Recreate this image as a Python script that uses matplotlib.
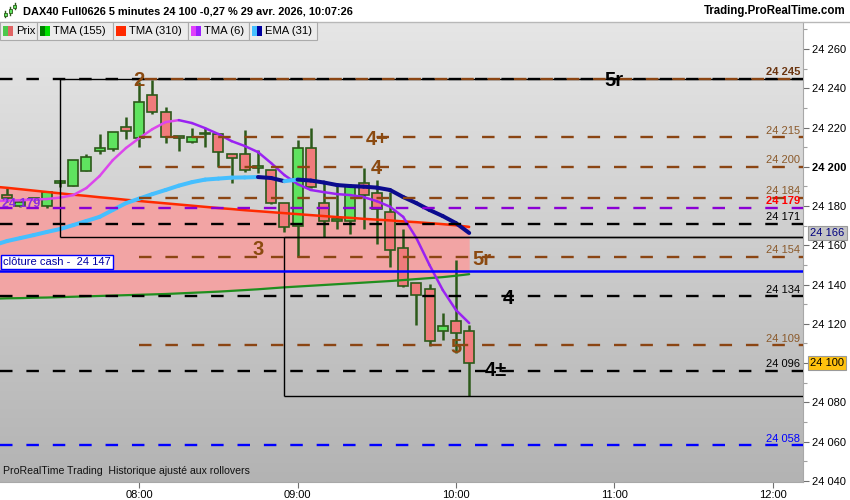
import numpy as np
import matplotlib
matplotlib.use("Agg")
import matplotlib.pyplot as plt
from matplotlib.patches import Rectangle
from matplotlib.lines import Line2D
from matplotlib.collections import LineCollection
from matplotlib.colors import LinearSegmentedColormap
from matplotlib.ticker import FuncFormatter, MultipleLocator

plt.rcParams['font.family'] = ['Liberation Sans', 'DejaVu Sans']
plt.rcParams['lines.scale_dashes'] = False

# ---------------- data ----------------
times = ["07:10", "07:15", "07:20", "07:25", "07:30", "07:35", "07:40", "07:45", "07:50", "07:55",
         "08:00", "08:05", "08:10", "08:15", "08:20", "08:25", "08:30", "08:35", "08:40", "08:45",
         "08:50", "08:55", "09:00", "09:05", "09:10", "09:15", "09:20", "09:25", "09:30", "09:35",
         "09:40", "09:45", "09:50", "09:55", "10:00", "10:05"]
opens = [24185.5, 24180.0, 24183.5, 24180.2, 24191.8, 24190.3, 24198.0, 24208.2, 24209.0, 24220.1,
         24214.5, 24236.6, 24228.0, 24215.0, 24212.5, 24216.5, 24216.5, 24206.3, 24206.3, 24199.2,
         24198.3, 24181.4, 24170.1, 24209.4, 24181.4, 24172.5, 24172.5, 24191.9, 24186.5, 24177.1,
         24158.4, 24140.9, 24138.0, 24116.3, 24121.4, 24116.3]
highs = [24189.0, 24183.0, 24184.0, 24187.8, 24193.2, 24203.4, 24206.5, 24216.7, 24217.6, 24225.2,
         24243.0, 24244.5, 24230.6, 24215.5, 24219.6, 24219.6, 24217.0, 24206.5, 24218.7, 24208.5,
         24198.5, 24181.5, 24213.8, 24219.6, 24191.9, 24190.2, 24190.5, 24199.2, 24193.2, 24187.3,
         24168.3, 24141.0, 24140.3, 24125.3, 24152.5, 24119.4]
lows = [24182.0, 24179.5, 24182.5, 24179.0, 24189.5, 24190.3, 24198.0, 24206.4, 24208.0, 24214.1,
        24210.3, 24227.0, 24212.3, 24208.2, 24212.0, 24210.2, 24200.0, 24191.6, 24197.5, 24197.0,
        24181.0, 24166.9, 24154.2, 24189.0, 24164.4, 24168.1, 24166.0, 24168.1, 24160.5, 24149.1,
        24139.0, 24119.4, 24108.7, 24111.7, 24104.9, 24083.2]
closes = [24184.0, 24182.0, 24183.0, 24187.3, 24192.2, 24203.4, 24205.1, 24209.4, 24217.6, 24218.4,
          24233.2, 24228.0, 24215.3, 24214.8, 24215.3, 24216.9, 24207.4, 24204.3, 24198.3, 24200.4,
          24181.4, 24169.1, 24209.4, 24189.5, 24172.4, 24173.3, 24190.2, 24185.6, 24178.5, 24157.6,
          24139.2, 24134.6, 24111.2, 24119.0, 24115.1, 24100.0]

line_times = ["07:05"] + times
tma155 = [24132.8, 24133.0, 24133.1, 24133.3, 24133.4, 24133.6, 24133.8, 24134.0, 24134.2, 24134.4,
          24134.6, 24134.8, 24135.0, 24135.2, 24135.5, 24135.8, 24136.1, 24136.4, 24136.8, 24137.2,
          24137.6, 24138.1, 24138.6, 24139.0, 24139.4, 24139.8, 24140.2, 24140.6, 24141.0, 24141.4,
          24141.8, 24142.3, 24142.8, 24143.3, 24143.8, 24144.5, 24145.3]
tma310 = [24189.9, 24189.3, 24188.6, 24187.9, 24187.2, 24186.5, 24185.8, 24185.2, 24184.5, 24183.9,
          24183.2, 24182.6, 24182.0, 24181.4, 24180.8, 24180.2, 24179.6, 24179.0, 24178.5, 24177.9,
          24177.4, 24176.9, 24176.4, 24175.9, 24175.4, 24174.9, 24174.4, 24174.0, 24173.5, 24173.1,
          24172.7, 24172.2, 24171.8, 24171.3, 24170.8, 24170.2, 24169.4]
tma6 = [24182.5, 24182.8, 24183.0, 24183.3, 24183.6, 24184.3, 24185.6, 24189.2, 24195.3, 24203.4,
        24209.6, 24214.6, 24219.2, 24222.8, 24223.8, 24222.3, 24219.7, 24216.7, 24213.1, 24210.6,
        24207.5, 24201.9, 24195.8, 24191.2, 24188.2, 24187.1, 24186.1, 24185.6, 24184.6, 24182.5,
        24179.7, 24174.5, 24163.7, 24149.9, 24137.2, 24127.0, 24120.4]
ema31 = [24160.1, 24162.2, 24163.7, 24165.2, 24166.8, 24168.3, 24170.3, 24172.4, 24174.5, 24178.0,
         24181.5, 24183.8, 24186.1, 24188.2, 24190.4, 24192.2, 24193.5, 24194.0, 24194.5, 24194.6,
         24194.8, 24194.3, 24192.7, 24193.5, 24193.0, 24192.0, 24190.7, 24190.2, 24189.9, 24189.4,
         24188.2, 24184.6, 24181.5, 24178.0, 24174.9, 24171.3, 24166.3]

level_prices = [24245, 24215, 24200, 24184, 24179, 24171, 24154, 24134, 24109, 24096, 24058]
level_kinds = ["black", "brown", "brown", "brown", "purple", "black", "brown", "black", "brown", "black", "blue"]
cash_close = 24147
cash_label = "clôture cash -  "

zig_times = ["07:30", "08:55"]
zig_box_levels = [(24245, 24164), (24164, 24083)]

wave_texts = ["2", "5r", "4+", "4", "3", "5r", "4", "5", "4±"]
wave_times = ["08:00", "11:00", "09:30", "09:30", "08:45", "10:10", "10:20", "10:00", "10:15"]
wave_prices = [24245, 24245, 24215, 24200, 24159, 24154, 24134, 24109, 24097]
wave_kinds = ["brown", "black", "brown", "brown", "brown", "brown", "black", "brown", "black"]

xtick_labels = ["08:00", "09:00", "10:00", "11:00", "12:00"]
header = "DAX40 Full0626 5 minutes 24 100 -0,27 % 29 avr. 2026, 10:07:26"
legend_items = ["Prix", "TMA (155)", "TMA (310)", "TMA (6)", "EMA (31)"]

# ---------------- helpers ----------------
W, H = 850, 500


def tmin(s):
    h, m = s.split(":")
    return int(h) * 60 + int(m)


T0 = tmin(times[0])


def tx(s):
    return (tmin(s) - T0) / 5.0


def fmt(v):
    return f"{int(round(v)):,}".replace(",", " ")


xb = np.array([tx(t) for t in times])
xl = np.array([tx(t) for t in line_times])

XL = (-0.545, 60.29)
YL = (24039.4, 24273.8)

BROWN = "#8b4513"
kind_color = {"black": "#000000", "brown": BROWN, "purple": "#8a00d4", "blue": "#0000ff"}
label_color = {"black": "#000000", "brown": "#8b5a2b", "purple": "#ff0000", "blue": "#0000ff"}

fig = plt.figure(figsize=(W / 100, H / 100), dpi=100, facecolor="white")
ax = fig.add_axes([0, 18 / H, 803 / W, 460 / H])

# background gradient
cmap = LinearSegmentedColormap.from_list("bg", ["#e6e6e6", "#b3b3b3"])
ax.imshow(np.linspace(0, 1, 256).reshape(-1, 1), cmap=cmap, aspect="auto",
          extent=[XL[0], XL[1], YL[0], YL[1]], zorder=0, interpolation="bilinear")

# pink zone between the two long TMAs
ax.fill_between(xl, tma310, tma155, color="#f2a4a4", lw=0, zorder=1)

# candles
EDGE = "#2c5a1a"
bw = 0.76
for x, o, h, l, c in zip(xb, opens, highs, lows, closes):
    ax.vlines(x, l, h, color=EDGE, lw=1.8, zorder=3)
    up = c >= o
    bot = min(o, c)
    ht = max(abs(c - o), 0.9)
    ax.add_patch(Rectangle((x - bw / 2, bot), bw, ht, facecolor="#5fe35f" if up else "#f07b7b",
                           edgecolor=EDGE, lw=1.2, zorder=4))

# indicator lines
ax.plot(xl, tma310, color="#ff2a00", lw=1.8, zorder=5, solid_capstyle="round")
ax.plot(xl, tma155, color="#1f8f1f", lw=1.6, zorder=5, solid_capstyle="round")


def two_color(xs, ys, cup, cdn, lw):
    pts = np.column_stack([xs, ys])
    segs = np.stack([pts[:-1], pts[1:]], axis=1)
    cols = [cup if ys[i + 1] >= ys[i] else cdn for i in range(len(ys) - 1)]
    ax.add_collection(LineCollection(segs, colors=cols, linewidths=lw, zorder=6, capstyle="round"))


two_color(xl, tma6, "#dc46ec", "#9a22f2", 1.8)
two_color(xl, ema31, "#45bfff", "#0b0b8e", 2.9)

# zigzag boxes
for zt, (top, bot) in zip(zig_times, zig_box_levels):
    zx = tx(zt)
    ax.vlines(zx, bot, top, color="black", lw=1.0, zorder=6)
    ax.hlines([top, bot], zx, XL[1], color="black", lw=1.0, zorder=6)

# level lines
DASH = (0, (9, 10))
brown_start = tx(wave_times[0])
for p, k in zip(level_prices, level_kinds):
    x0 = brown_start if k == "brown" else XL[0]
    ax.hlines(p, x0, XL[1], color=kind_color[k], lw=1.7, linestyles=[DASH], zorder=7)
    ax.annotate(fmt(p), xy=(1, p), xycoords=ax.get_yaxis_transform(), xytext=(-2.2, 1.3),
                textcoords="offset points", ha="right", va="bottom", fontsize=8,
                color=label_color[k], fontweight="bold" if k == "purple" else "normal",
                zorder=9, annotation_clip=False)
# brown overlay on top level (from wave 2)
ax.hlines(level_prices[0], brown_start, XL[1], color=BROWN, lw=1.7, linestyles=[(15, (9, 10))], zorder=7)
ax.texts[0].set_color("#6b3510")
ax.texts[0].set_fontweight("bold")

# purple level label on the left
ax.annotate(fmt(level_prices[4]), xy=(0, level_prices[4]), xycoords=ax.get_yaxis_transform(),
            xytext=(1.5, 3), textcoords="offset points", ha="left", va="center", fontsize=9,
            color="#8a2be2", fontweight="bold", zorder=8)

# cash close line
ax.axhline(cash_close, color="#0000ff", lw=1.8, zorder=7)
ax.annotate(cash_label + fmt(cash_close), xy=(0, cash_close), xycoords=ax.get_yaxis_transform(),
            xytext=(2, 2.6), textcoords="offset points", ha="left", va="bottom", fontsize=8,
            color="#0000a0", zorder=9,
            bbox=dict(boxstyle="square,pad=0.2", fc="white", ec="#0000ff", lw=1.0))

# wave labels
wave_color = {"brown": "#8b4a10", "black": "#000000"}
for s, t, p, k in zip(wave_texts, wave_times, wave_prices, wave_kinds):
    ax.text(tx(t), p, s, ha="center", va="center_baseline", fontsize=14.5, fontweight="bold",
            color=wave_color[k], zorder=10)

# footer
ax.text(0.004, 0.013, "ProRealTime Trading  Historique ajusté aux rollovers", transform=ax.transAxes,
        fontsize=7.6, va="bottom", ha="left", color="#111111", zorder=10)

ax.set_xlim(*XL)
ax.set_ylim(*YL)

# axes styling
for sp in ["top", "left"]:
    ax.spines[sp].set_visible(False)
for sp in ["right", "bottom"]:
    ax.spines[sp].set_color("#a8a8a8")
    ax.spines[sp].set_linewidth(0.8)

ax.yaxis.tick_right()
ax.yaxis.set_major_locator(MultipleLocator(20))
ax.yaxis.set_minor_locator(MultipleLocator(10))
ax.yaxis.set_major_formatter(FuncFormatter(lambda v, p: fmt(v)))
ax.tick_params(axis="y", which="major", direction="out", length=4, width=0.8, color="#707070",
               labelsize=8, pad=2.5)
ax.tick_params(axis="y", which="minor", direction="out", length=3, width=0.8, color="#a0a0a0")
ax.set_xticks([tx(t) for t in xtick_labels])
ax.set_xticklabels(xtick_labels)
ax.tick_params(axis="x", direction="out", length=4, width=0.8, color="#707070", labelsize=8, pad=2)
fig.canvas.draw()
for lab in ax.get_yticklabels():
    if lab.get_text() == "24 200":
        lab.set_fontweight("bold")

# price tags on the axis
ax.annotate(fmt(ema31[-1]), xy=(1, ema31[-1]), xycoords=ax.get_yaxis_transform(), xytext=(5.3, 0),
            textcoords="offset points", ha="left", va="center", fontsize=8, color="#000080",
            zorder=12, annotation_clip=False,
            bbox=dict(boxstyle="square,pad=0.18", fc="#c4c4c4", ec="#9a9a9a", lw=0.8))
ax.annotate(fmt(closes[-1]), xy=(1, closes[-1]), xycoords=ax.get_yaxis_transform(), xytext=(5.3, 0),
            textcoords="offset points", ha="left", va="center", fontsize=8, color="#000000",
            zorder=12, annotation_clip=False,
            bbox=dict(boxstyle="square,pad=0.18", fc="#ffc20e", ec="#9a9a9a", lw=0.8))

# ---------------- header & legend ----------------
fig.add_artist(Line2D([0, 1], [1 - 21.5 / H] * 2, transform=fig.transFigure, color="#b8b8b8", lw=1, zorder=5))
fig.text(23 / W, 1 - 11 / H, header, fontsize=7.9, fontweight="bold", ha="left", va="center")
fig.text(846 / W, 1 - 11 / H, "Trading.ProRealTime.com", fontsize=8.3, fontweight="bold", ha="right", va="center")

# small header icon
for (ix, iy0, iy1, bh0, bh1) in [(5, 17, 11, 16, 13), (10, 15, 7, 13, 9), (15, 9, 3, 8, 5)]:
    fig.add_artist(Line2D([ix / W] * 2, [1 - iy0 / H, 1 - iy1 / H], transform=fig.transFigure,
                          color="#2c5a1a", lw=1, zorder=6))
    fig.add_artist(Rectangle(((ix - 1.5) / W, 1 - bh0 / H), 3 / W, (bh0 - bh1) / H, transform=fig.transFigure,
                             fc="#5fe35f", ec="#2c5a1a", lw=0.6, zorder=7))

box_edges = [0, 37, 112.7, 187.7, 249.3, 316.7]
swatches = [["#4cc84c", "#e06464"], ["#008000", "#00e000"], ["#ff2a00"], ["#e040fb", "#9a20ff"],
            ["#45bfff", "#0000a0"]]
for i, name in enumerate(legend_items):
    x0, x1 = box_edges[i], box_edges[i + 1]
    fig.add_artist(Rectangle((x0 / W, 1 - 39.5 / H), (x1 - x0) / W, 17.5 / H, transform=fig.transFigure,
                             fc="#ececec", ec="#ababab", lw=0.8, zorder=5))
    sx = x0 + 3
    sw = 10 / len(swatches[i]) if len(swatches[i]) > 1 else 10
    for c in swatches[i]:
        fig.add_artist(Rectangle((sx / W, 1 - 36 / H), sw / W, 10 / H, transform=fig.transFigure,
                                 fc=c, ec="none", zorder=6))
        sx += sw
    fig.text((x0 + 16) / W, 1 - 31 / H, name, fontsize=8.1, ha="left", va="center", zorder=6)

fig.savefig("out.png", dpi=100, facecolor="white")
